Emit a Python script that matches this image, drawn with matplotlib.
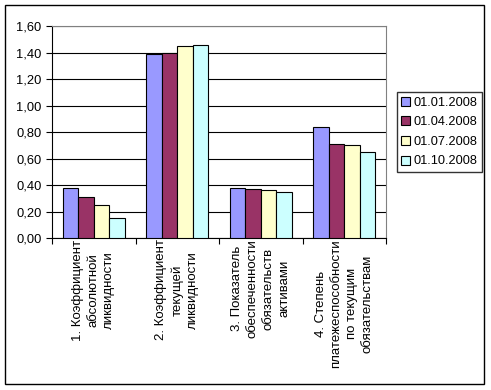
import matplotlib.pyplot as plt
import numpy as np
from matplotlib.patches import Rectangle
from matplotlib.ticker import FuncFormatter, MultipleLocator

# data
categories = ["1. Коэффициент\nабсолютной\nликвидности",
              "2. Коэффициент\nтекущей\nликвидности",
              "3. Показатель\nобеспеченности\nобязательств\nактивами",
              "4. Степень\nплатежеспособности\nпо текущим\nобязательствам"]
dates = ["01.01.2008", "01.04.2008", "01.07.2008", "01.10.2008"]
v_jan = [0.38, 1.39, 0.38, 0.84]
v_apr = [0.31, 1.40, 0.37, 0.71]
v_jul = [0.25, 1.45, 0.36, 0.70]
v_oct = [0.15, 1.46, 0.35, 0.65]
colors = ["#9999FF", "#993366", "#FFFFCC", "#CCFFFF"]

plt.rcParams['font.family'] = ['Liberation Sans', 'DejaVu Sans']

fig = plt.figure(figsize=(4.91, 3.9), dpi=100)
ax = fig.add_axes([52/491, 1 - 238/390, (386-52)/491, (238-26)/390])

x = np.arange(len(categories))
w = 0.186
series = [v_jan, v_apr, v_jul, v_oct]
for i, vals in enumerate(series):
    ax.bar(x + (i - 1.5) * w, vals, w, color=colors[i], edgecolor='black',
           linewidth=0.8, label=dates[i], zorder=3)

ax.set_xlim(-0.5, len(categories) - 0.5)
ax.set_ylim(0, 1.6)
ax.yaxis.set_major_locator(MultipleLocator(0.2))
ax.yaxis.set_major_formatter(FuncFormatter(lambda v, p: f"{v:.2f}".replace('.', ',')))
ax.grid(axis='y', color='black', linewidth=0.8, zorder=0)

ax.set_xticks(x)
ax.set_xticklabels(categories, rotation=90, ha='center', va='top',
                   multialignment='center', fontsize=9.5, linespacing=1.4)
ax.tick_params(axis='x', which='major', length=0, pad=1)
ax.set_xticks(np.arange(-0.5, len(categories)), minor=True)
ax.tick_params(axis='x', which='minor', length=4, direction='out', width=0.8)
ax.tick_params(axis='y', length=4, direction='out', width=0.8, labelsize=9.3)

for s in ['top', 'right']:
    ax.spines[s].set_color('#808080')
for s in ['left', 'bottom']:
    ax.spines[s].set_color('black')

ax.legend(loc='center left', bbox_to_anchor=(397/491, 1 - 132/390),
          bbox_transform=fig.transFigure, fontsize=9.2, frameon=True,
          fancybox=False, edgecolor='black', handlelength=0.7,
          handleheight=0.7, handletextpad=0.25, borderpad=0.35,
          labelspacing=0.6, borderaxespad=0)

fig.patches.append(Rectangle((5/491, 1 - 384/390), 479/491, 379/390,
                             transform=fig.transFigure, fill=False,
                             edgecolor='black', linewidth=1))

fig.savefig('out.png', dpi=100)
